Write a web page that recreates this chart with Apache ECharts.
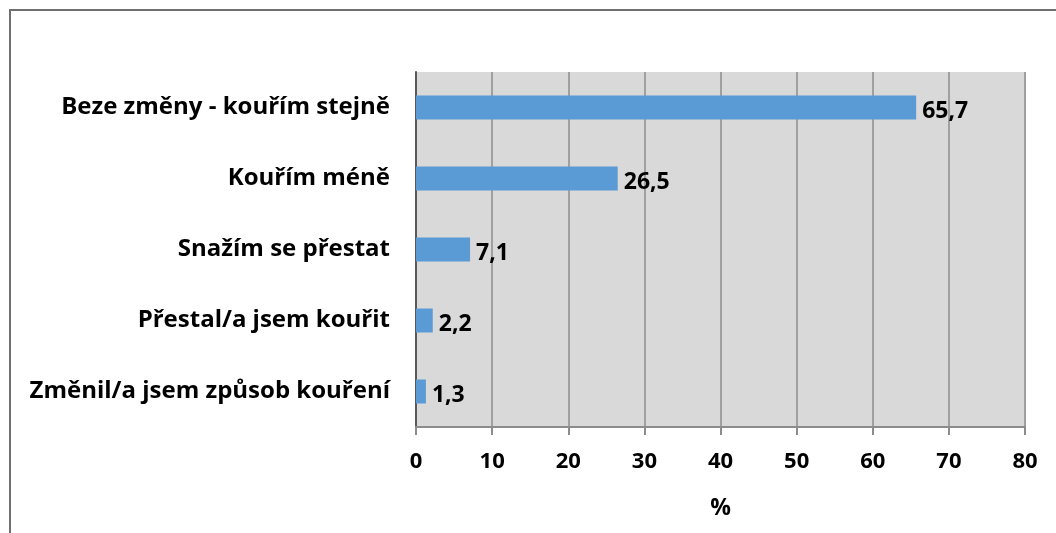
<!DOCTYPE html>
<html>
<head>
<meta charset="utf-8">
<script src="https://cdn.jsdelivr.net/npm/echarts@6/dist/echarts.min.js"></script>
<style>
  html, body { margin: 0; padding: 0; background: #fff; }
  #frame { position: absolute; left: 9px; top: 9px; width: 1100px; height: 600px; border: 2px solid #6f6f6f; box-sizing: border-box; }
  #chart { position: absolute; left: 0; top: 0; width: 1056px; height: 533px; }
</style>
</head>
<body>
<div id="frame"></div>
<div id="chart"></div>
<script>
const categories = [
    'Beze změny - kouřím stejně',
    'Kouřím méně',
    'Snažím se přestat',
    'Přestal/a jsem kouřit',
    'Změnil/a jsem způsob kouření',
];
const values = [65.7, 26.5, 7.1, 2.2, 1.3];
const xTicks = [0, 10, 20, 30, 40, 50, 60, 70, 80];

const chart = echarts.init(document.getElementById('chart'));
const font = "'Open Sans', 'Noto Sans', sans-serif";

const option = {
    backgroundColor: 'transparent',
    textStyle: { fontFamily: font },
    grid: {
        left: 416,
        top: 72,
        right: 31,
        bottom: 106,
        show: true,
        backgroundColor: '#d9d9d9',
        borderWidth: 0,
    },
    xAxis: {
        type: 'value',
        min: xTicks[0],
        max: xTicks[xTicks.length - 1],
        interval: 10,
        name: '%',
        nameLocation: 'middle',
        nameGap: 70,
        nameTextStyle: { fontSize: 23, fontWeight: 'bold', color: '#000', fontFamily: font },
        axisLine: { show: true, lineStyle: { color: '#8c8c8c', width: 2 } },
        axisTick: { show: true, length: 8, lineStyle: { color: '#8c8c8c', width: 2 } },
        axisLabel: { fontSize: 22, fontWeight: 'bold', color: '#000', margin: 24, fontFamily: font },
        splitLine: { show: true, lineStyle: { color: '#a0a0a0', width: 2 } },
    },
    yAxis: {
        type: 'category',
        data: categories,
        inverse: true,
        axisLine: { show: true, lineStyle: { color: '#595959', width: 2 } },
        axisTick: { show: false },
        axisLabel: { fontSize: 24, fontWeight: 'bold', color: '#000', margin: 26, fontFamily: font },
        splitLine: { show: false },
    },
    series: [
        {
            type: 'bar',
            data: values,
            barWidth: 24,
            itemStyle: { color: '#5b9bd5' },
            label: {
                show: true,
                position: 'right',
                distance: 6,
                offset: [0, 4],
                fontSize: 23,
                fontWeight: 'bold',
                color: '#000',
                fontFamily: font,
                formatter: (p) => String(p.value).replace('.', ','),
            },
        },
    ],
};

chart.setOption(option);
</script>
</body>
</html>
